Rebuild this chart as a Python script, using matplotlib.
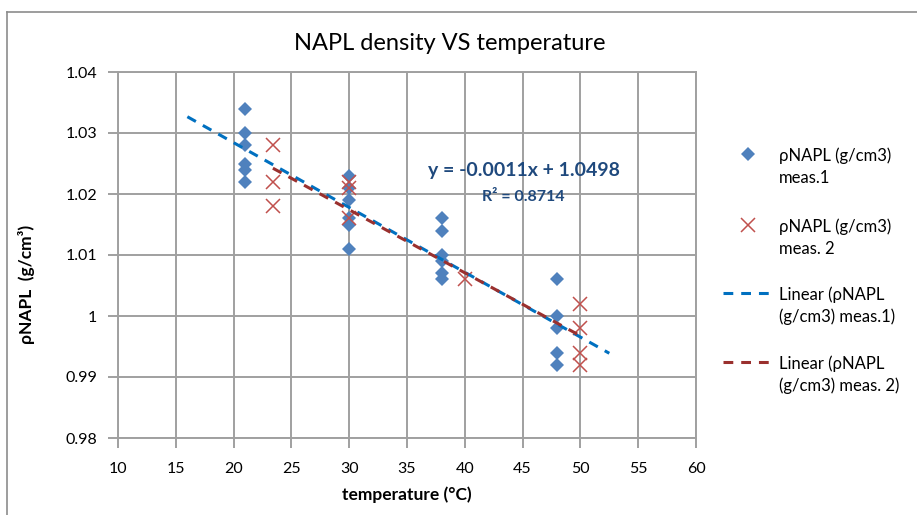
import numpy as np
import matplotlib.pyplot as plt
from matplotlib.lines import Line2D

temp_meas1 = [21, 21, 21, 21, 21, 21,
              30, 30, 30, 30, 30, 30,
              38, 38, 38, 38, 38, 38,
              48, 48, 48, 48, 48]
rho_meas1 = [1.034, 1.030, 1.028, 1.025, 1.024, 1.022,
             1.023, 1.021, 1.019, 1.016, 1.015, 1.011,
             1.016, 1.014, 1.010, 1.009, 1.007, 1.006,
             1.006, 1.000, 0.998, 0.994, 0.992]

temp_meas2 = [23.4, 23.4, 23.4, 30, 30, 30, 40, 50, 50, 50, 50]
rho_meas2 = [1.028, 1.022, 1.018, 1.022, 1.021, 1.016, 1.006,
             1.002, 0.998, 0.994, 0.992]

x_ticks = [10, 15, 20, 25, 30, 35, 40, 45, 50, 55, 60]
y_ticks = [0.98, 0.99, 1.0, 1.01, 1.02, 1.03, 1.04]
y_tick_labels = ['0.98', '0.99', '1', '1.01', '1.02', '1.03', '1.04']

eq_text = 'y = -0.0011x + 1.0498'
r2_text = 'R² = 0.8714'

# ——— style ———
DIAMOND_COLOR = '#4F81BD'
CROSS_COLOR = '#C0504D'
TREND1_COLOR = '#0070C0'
TREND2_COLOR = '#9A302E'
GRID_COLOR = '#A0A0A0'
EQ_COLOR = '#1F497D'

plt.rcParams.update({
    'font.family': ['Lato', 'DejaVu Sans'],
    'font.size': 11,
    'text.color': '#000000',
})

W, H = 917, 515
fig = plt.figure(figsize=(W / 100, H / 100), dpi=100)
ax = fig.add_axes([118 / W, 1 - 438 / H, (696 - 118) / W, (438 - 72) / H])

# chart outer border (left and top only visible)
fig.add_artist(Line2D([7 / W, 7 / W], [0, 1 - 12 / H], color='#8C8C8C', lw=1.2))
fig.add_artist(Line2D([7 / W, 1], [1 - 12 / H, 1 - 12 / H], color='#8C8C8C', lw=1.2))

# scatter series
ax.plot(temp_meas1, rho_meas1, linestyle='none', marker='D', markersize=7,
        color=DIAMOND_COLOR, markeredgewidth=0, zorder=3)
ax.plot(temp_meas2, rho_meas2, linestyle='none', marker='x', markersize=10,
        color=CROSS_COLOR, markeredgewidth=1.1, zorder=3)

# linear trendlines (meas.1 extended backward/forward like Excel forecast)
p1 = np.polyfit(temp_meas1, rho_meas1, 1)
xs1 = np.array([min(temp_meas1) - 5, max(temp_meas1) + 4.5])
ax.plot(xs1, np.polyval(p1, xs1), color=TREND1_COLOR, lw=2.2,
        dashes=(3.2, 2.6), zorder=4)
p2 = np.polyfit(temp_meas2, rho_meas2, 1)
xs2 = np.array([min(temp_meas2), max(temp_meas2)])
ax.plot(xs2, np.polyval(p2, xs2), color=TREND2_COLOR, lw=2.2,
        dashes=(3.2, 2.6), zorder=4)

# axes
ax.set_xlim(10, 60)
ax.set_ylim(0.98, 1.04)
ax.set_xticks(x_ticks)
ax.set_yticks(y_ticks)
ax.set_yticklabels(y_tick_labels)
ax.grid(True, color=GRID_COLOR, lw=1.4)
ax.set_axisbelow(True)
for s in ax.spines.values():
    s.set_color(GRID_COLOR)
    s.set_linewidth(1.4)
ax.tick_params(axis='both', color=GRID_COLOR, width=1.4, length=7,
               labelsize=11.5, direction='out')
ax.tick_params(axis='x', pad=10)
ax.tick_params(axis='y', pad=8)

ax.set_xlabel('temperature (°C)', fontsize=12.5, fontweight='bold', labelpad=8)
ax.set_ylabel('ρNAPL  (g/cm³)', fontsize=12.5, fontweight='bold')
ax.yaxis.set_label_coords(-0.143, 0.42)

fig.text(450 / W, 1 - 43 / H, 'NAPL density VS temperature', fontsize=17,
         ha='center', va='center')

# trendline equation
ax.text(524 / W, 1 - 171 / H, eq_text, transform=fig.transFigure, fontsize=14,
        fontweight='bold', color=EQ_COLOR, ha='center', va='center')
ax.text(523 / W, 1 - 197 / H, r2_text, transform=fig.transFigure, fontsize=11.5,
        fontweight='bold', color=EQ_COLOR, ha='center', va='center')

# ——— legend drawn by hand to keep handles on the first text line ———
def fx(px):
    return px / W


def fy(py):
    return 1 - py / H


legend_items = [
    ('marker', 'D', DIAMOND_COLOR, 154, ['ρNAPL (g/cm3)', 'meas.1']),
    ('marker', 'x', CROSS_COLOR, 225, ['ρNAPL (g/cm3)', 'meas. 2']),
    ('line', None, TREND1_COLOR, 293, ['Linear (ρNAPL', '(g/cm3) meas.1)']),
    ('line', None, TREND2_COLOR, 362, ['Linear (ρNAPL', '(g/cm3) meas. 2)']),
]
for kind, mk, col, ypx, lines in legend_items:
    if kind == 'marker':
        if mk == 'D':
            h = Line2D([fx(748)], [fy(ypx)], marker='D', markersize=7, color=col,
                       markeredgewidth=0, linestyle='none')
        else:
            h = Line2D([fx(748)], [fy(ypx)], marker='x', markersize=10, color=col,
                       markeredgewidth=1.1, linestyle='none')
    else:
        h = Line2D([fx(723), fx(773)], [fy(ypx), fy(ypx)], color=col, lw=2.2,
                   dashes=(3.2, 2.6))
    fig.add_artist(h)
    for k, txt in enumerate(lines):
        fig.text(fx(779), fy(ypx + 2 + 22 * k), txt, fontsize=12,
                 ha='left', va='center')

fig.savefig('out.png', dpi=100, facecolor='white')
